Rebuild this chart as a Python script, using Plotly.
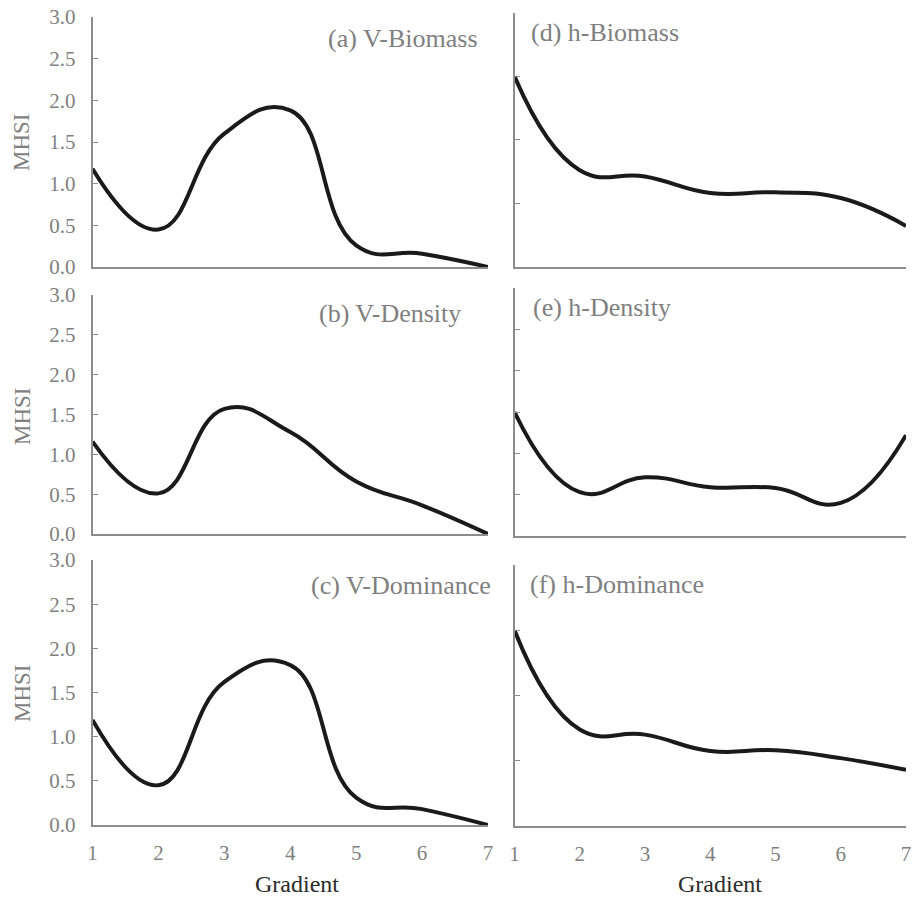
import plotly.graph_objects as go

W, H = 913, 897

gradient = [1, 2, 3, 4, 5, 6, 7]

v_biomass = [1.18, 0.45, 1.60, 1.88, 0.26, 0.16, 0.0]
v_density = [1.16, 0.51, 1.57, 1.28, 0.66, 0.36, 0.0]
v_dominance = [1.19, 0.45, 1.62, 1.81, 0.31, 0.18, 0.0]

h_biomass = [1.50, 0.76, 0.71, 0.58, 0.585, 0.54, 0.32]
h_density = [1.50, 0.53, 0.71, 0.59, 0.58, 0.40, 1.22]
h_dominance = [1.50, 0.74, 0.70, 0.575, 0.58, 0.52, 0.43]

panel_titles = ["(a) V-Biomass", "(b) V-Density", "(c) V-Dominance",
                "(d) h-Biomass", "(e) h-Density", "(f) h-Dominance"]
x_ticks = [1, 2, 3, 4, 5, 6, 7]
y_title = "MHSI"
x_title = "Gradient"

FONT = "Liberation Serif, Times New Roman, serif"
TXT = "#7f7f7f"
AX = "#8c8c8c"
LINE = "#1a1a1a"


def px_x(p):
    return p / W


def px_y(p):
    return 1 - p / H


# panel pixel boxes
left_x = (92.5, 488.0)
right_x = (514.5, 906.0)
left_rows = [(17, 267), (295, 534), (560, 825)]
right_rows = [(13, 266.5), (288, 536), (565, 826)]
right_ranges = [2.0, 3.0, 2.0]

series_left = [v_biomass, v_density, v_dominance]
series_right = [h_biomass, h_density, h_dominance]

fig = go.Figure()
layout = dict(
    width=W, height=H,
    margin=dict(l=0, r=0, t=0, b=0, pad=0, autoexpand=False),
    paper_bgcolor="white", plot_bgcolor="white",
    showlegend=False,
    font=dict(family=FONT, color=TXT, size=21),
)

annotations = []
idx = 1
for col in range(2):
    for row in range(3):
        xname = "xaxis" if idx == 1 else f"xaxis{idx}"
        yname = "yaxis" if idx == 1 else f"yaxis{idx}"
        xref = "x" if idx == 1 else f"x{idx}"
        yref = "y" if idx == 1 else f"y{idx}"
        if col == 0:
            x0, x1 = left_x
            yt, yb = left_rows[row]
            ymax = 3.0
            data = series_left[row]
        else:
            x0, x1 = right_x
            yt, yb = right_rows[row]
            ymax = right_ranges[row]
            data = series_right[row]
        bottom = row == 2
        layout[xname] = dict(
            domain=[px_x(x0), px_x(x1)], anchor=yref, range=[1, 7],
            showline=True, linecolor=AX, linewidth=1.5,
            showgrid=False, zeroline=False,
            tickvals=x_ticks, ticks="",
            showticklabels=bottom,
            tickfont=dict(family=FONT, size=21, color=TXT),
            ticklabelstandoff=8,
            ticklabeloverflow="allow",
        )
        layout[yname] = dict(
            domain=[px_y(yb), px_y(yt)], anchor=xref, range=[0, ymax],
            showline=True, linecolor=AX, linewidth=1.5,
            showgrid=False, zeroline=False,
            dtick=0.5, tick0=0, ticks="inside", ticklen=6, tickcolor=AX,
            tickwidth=1,
            showticklabels=(col == 0), tickformat=".1f",
            tickfont=dict(family=FONT, size=21, color=TXT),
            ticklabelstandoff=11,
            ticklabeloverflow="allow",
        )
        fig.add_trace(go.Scatter(
            x=gradient, y=data, mode="lines",
            line=dict(color=LINE, width=4, shape="spline", smoothing=1.3),
            xaxis=xref, yaxis=yref, hoverinfo="skip",
        ))
        idx += 1

# panel titles
title_pos = [
    (480, 38, "right"), (463, 313, "right"), (493, 585, "right"),
    (529, 33, "left"), (531, 308, "left"), (528, 584, "left"),
]
for t, (x, y, al) in zip(panel_titles, title_pos):
    annotations.append(dict(
        text=t, x=px_x(x), y=px_y(y), xref="paper", yref="paper",
        xanchor=al, yanchor="middle", showarrow=False,
        font=dict(family=FONT, size=26, color=TXT),
    ))

# y titles
for yc in [142, 416, 693]:
    annotations.append(dict(
        text=y_title, x=px_x(22), y=px_y(yc), xref="paper", yref="paper",
        xanchor="center", yanchor="middle", showarrow=False, textangle=-90,
        font=dict(family=FONT, size=23, color=TXT),
    ))

# x titles
for xc in [297, 720]:
    annotations.append(dict(
        text=x_title, x=px_x(xc), y=px_y(884), xref="paper", yref="paper",
        xanchor="center", yanchor="middle", showarrow=False,
        font=dict(family=FONT, size=24, color="#2b2b2b"),
    ))

layout["annotations"] = annotations
fig.update_layout(**layout)
fig.write_html("out.html")
